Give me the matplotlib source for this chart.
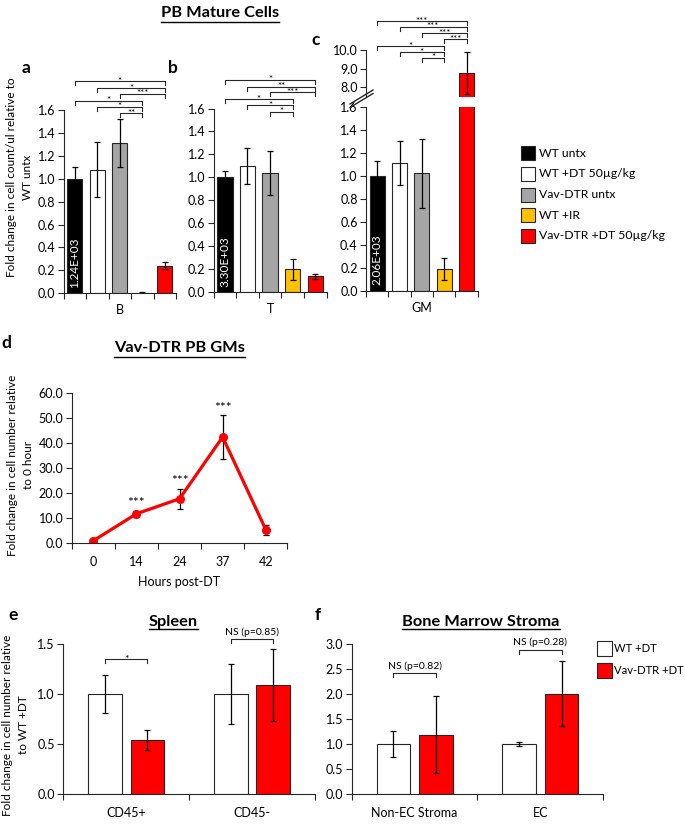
import matplotlib
matplotlib.use("Agg")
import matplotlib.pyplot as plt
from matplotlib.patches import Rectangle
from matplotlib.lines import Line2D
from matplotlib.ticker import FormatStrFormatter
import numpy as np

plt.rcParams['font.family'] = ['Lato', 'DejaVu Sans']

W, H = 685, 827

# ---- data ----
groups = ['WT untx', 'WT +DT 50µg/kg', 'Vav-DTR untx', 'WT +IR', 'Vav-DTR +DT 50µg/kg']
colors = ['#000000', '#ffffff', '#a5a5a5', '#ffc000', '#ff0000']

b_mean = [1.00, 1.08, 1.31, 0.005, 0.24]
b_err = [0.10, 0.24, 0.21, 0.003, 0.03]
t_mean = [1.00, 1.10, 1.04, 0.20, 0.14]
t_err = [0.06, 0.16, 0.19, 0.09, 0.02]
gm_mean = [1.00, 1.11, 1.02, 0.185, 8.75]
gm_err = [0.13, 0.19, 0.30, 0.095, 1.12]
base_counts = ['1.24E+03', '3.30E+03', '2.06E+03']

# significance brackets: (from bar, to bar, label)
b_sig = [(0, 4, '*'), (1, 4, '*'), (2, 4, '***'), (0, 3, '*'), (1, 3, '*'), (2, 3, '**')]
t_sig = [(0, 4, '*'), (1, 4, '**'), (2, 4, '***'), (0, 3, '*'), (1, 3, '*'), (2, 3, '*')]
gm_sig = [(0, 4, '***'), (1, 4, '***'), (2, 4, '***'), (3, 4, '***'),
          (0, 3, '*'), (1, 3, '*'), (2, 3, '*')]

hours = ['0', '14', '24', '37', '42']
gm_fold = [1.0, 11.8, 17.8, 42.5, 5.5]
gm_fold_err = [0.4, 1.3, 4.1, 8.7, 2.0]
gm_fold_sig = ['', '***', '***', '***', '']

spleen_cats = ['CD45+', 'CD45-']
spleen_wt = [1.0, 1.0]
spleen_wt_err = [0.19, 0.30]
spleen_vav = [0.54, 1.09]
spleen_vav_err = [0.10, 0.36]
spleen_sig = ['*', 'NS (p=0.85)']

stroma_cats = ['Non-EC Stroma', 'EC']
stroma_wt = [1.0, 1.0]
stroma_wt_err = [0.26, 0.04]
stroma_vav = [1.19, 2.01]
stroma_vav_err = [0.77, 0.65]
stroma_sig = ['NS (p=0.82)', 'NS (p=0.28)']

fig = plt.figure(figsize=(W / 100, H / 100), dpi=100)


def add_ax(l, t, r, b):
    return fig.add_axes([l / W, 1 - b / H, (r - l) / W, (b - t) / H])


def fx(px):
    return px / W


def fy(py):
    return 1 - py / H


EDGE = '#262626'
TICK_FS = 9
ekw = dict(elinewidth=0.9, capthick=0.9, ecolor='black')


def style(ax, fmt='%.1f'):
    for s in ['top', 'right']:
        ax.spines[s].set_visible(False)
    for s in ['left', 'bottom']:
        ax.spines[s].set_color(EDGE)
        ax.spines[s].set_linewidth(0.8)
    ax.tick_params(axis='y', direction='out', length=4, width=0.8, labelsize=TICK_FS, pad=2, color=EDGE)
    ax.tick_params(axis='x', which='major', length=0, labelsize=TICK_FS)
    ax.tick_params(axis='x', which='minor', direction='out', length=4, width=0.8, color=EDGE)
    ax.yaxis.set_major_formatter(FormatStrFormatter(fmt))


def bracket(ax, x0, x1, y, h, label, fs=7, dy=-1.8, va='baseline'):
    ax.plot([x0, x0, x1, x1], [y - h, y, y, y - h], color=EDGE, lw=0.8, clip_on=False)
    ax.annotate(label, xy=((x0 + x1) / 2, y), xytext=(0, dy), textcoords='offset points',
                ha='center', va=va, fontsize=fs, annotation_clip=False)


def bar_panel(ax, means, errs, cat, count, sig, levels):
    x = np.arange(len(means))
    ax.bar(x, means, width=0.68, color=colors, edgecolor=EDGE, linewidth=0.8,
           yerr=errs, capsize=2.5, error_kw=ekw)
    ax.set_xlim(-0.5, 4.5)
    ax.set_ylim(0, 1.6)
    ax.set_yticks(np.arange(0, 1.61, 0.2))
    ax.set_xticks([2])
    ax.set_xticklabels([cat])
    ax.set_xticks(np.arange(-0.5, 4.6, 1), minor=True)
    style(ax)
    ax.tick_params(axis='x', which='major', pad=8)
    ax.text(0, 0.05, count, rotation=90, color='white', ha='center', va='bottom', fontsize=8.5)
    for (i, j, lab), lev in zip(sig, levels):
        bracket(ax, i, j, lev, 0.035, lab)


# ---- panels a, b ----
lev_ab = [1.85, 1.79, 1.74, 1.68, 1.63, 1.57]
ax_a = add_ax(63.5, 110, 176, 293.3)
bar_panel(ax_a, b_mean, b_err, 'B', base_counts[0], b_sig, lev_ab)
ax_b = add_ax(213.5, 108.5, 326.7, 292.3)
bar_panel(ax_b, t_mean, t_err, 'T', base_counts[1], t_sig, lev_ab)

# ---- panel c (broken axis) ----
ax_c = add_ax(366, 106.7, 477.7, 290.7)
bar_panel(ax_c, gm_mean, gm_err, 'GM', base_counts[2], [], [])
ax_cu = add_ax(366, 50, 477.7, 96.7)
ax_cu.bar(np.arange(5), gm_mean, width=0.68, color=colors, edgecolor=EDGE, linewidth=0.8,
          yerr=gm_err, capsize=2.5, error_kw=ekw)
ax_cu.set_xlim(-0.5, 4.5)
ax_cu.set_ylim(7.5, 10.0)
ax_cu.set_yticks([8, 9, 10])
style(ax_cu)
ax_cu.spines['bottom'].set_visible(False)
ax_cu.set_xticks([])
lev_c = [11.55, 11.24, 10.89, 10.57, 10.21, 9.87, 9.58]
for (i, j, lab), lev in zip(gm_sig, lev_c):
    bracket(ax_cu, i, j, lev, 0.2, lab)
for off in [0, 3.5]:
    fig.add_artist(Line2D([fx(350), fx(373)], [fy(107.5 - off), fy(93.5 - off)],
                          color=EDGE, lw=1.0))

# legend a-c
for i, (lab, c) in enumerate(zip(groups, colors)):
    yc = 153.3 + i * 20.6
    fig.add_artist(Rectangle((fx(520.7), fy(yc + 7)), 14.5 / W, 14 / H, transform=fig.transFigure,
                             fc=c, ec=EDGE, lw=0.8))
    fig.text(fx(539.3), fy(yc), lab, va='center', ha='left', fontsize=8.8)

# ---- panel d ----
ax_d = add_ax(71.7, 393.3, 287.3, 543.3)
xd = np.arange(len(hours))
ax_d.errorbar(xd, gm_fold, yerr=gm_fold_err, color='#ff0000', lw=2.3, marker='o', ms=5.5,
              capsize=2.5, **ekw)
for i, s in enumerate(gm_fold_sig):
    if s:
        ax_d.text(i, gm_fold[i] + gm_fold_err[i] + 3.0, s, ha='center', va='center', fontsize=10)
ax_d.set_xlim(-0.5, 4.5)
ax_d.set_ylim(0, 60)
ax_d.set_yticks(np.arange(0, 61, 10))
ax_d.set_xticks(xd)
ax_d.set_xticklabels(hours)
ax_d.set_xticks(np.arange(-0.5, 4.6, 1), minor=True)
style(ax_d)
ax_d.tick_params(axis='x', which='major', pad=9)
ax_d.set_xlabel('Hours post-DT', fontsize=9, labelpad=6)


# ---- panels e, f ----
def group_panel(ax, cats, wt, wt_err, vav, vav_err, sig, ymax, step, sig_lev, h):
    x = np.arange(len(cats))
    off, w = 0.168, 0.267
    ax.bar(x - off, wt, width=w, color='white', edgecolor=EDGE, linewidth=0.8,
           yerr=wt_err, capsize=2.5, error_kw=ekw)
    ax.bar(x + off, vav, width=w, color='#ff0000', edgecolor=EDGE, linewidth=0.8,
           yerr=vav_err, capsize=2.5, error_kw=ekw)
    ax.set_xlim(-0.5, len(cats) - 0.5)
    ax.set_ylim(0, ymax)
    ax.set_yticks(np.arange(0, ymax + 0.01, step))
    ax.set_xticks(x)
    ax.set_xticklabels(cats)
    ax.set_xticks(np.arange(-0.5, len(cats), 1), minor=True)
    style(ax)
    ax.tick_params(axis='x', which='major', pad=9)
    for i, (lab, lev) in enumerate(zip(sig, sig_lev)):
        if lab == '*':
            bracket(ax, i - off, i + off, lev, h, lab, fs=7.5)
        else:
            bracket(ax, i - off, i + off, lev, h, lab, fs=7.5, dy=1.5, va='bottom')


ax_e = add_ax(63.3, 644.3, 315, 794.3)
group_panel(ax_e, spleen_cats, spleen_wt, spleen_wt_err, spleen_vav, spleen_vav_err,
            spleen_sig, 1.5, 0.5, [1.35, 1.55], 0.04)
ax_f = add_ax(351.7, 644, 603.3, 794.3)
group_panel(ax_f, stroma_cats, stroma_wt, stroma_wt_err, stroma_vav, stroma_vav_err,
            stroma_sig, 3.0, 0.5, [2.42, 2.89], 0.08)

for i, (lab, c) in enumerate(zip(['WT +DT', 'Vav-DTR +DT'], ['white', '#ff0000'])):
    yc = 648.3 + i * 21.7
    fig.add_artist(Rectangle((fx(596.7), fy(yc + 7.5)), 15 / W, 15 / H, transform=fig.transFigure,
                             fc=c, ec=EDGE, lw=0.8))
    fig.text(fx(614.5), fy(yc), lab, va='center', ha='left', fontsize=8.1)

# ---- y labels ----
ylabels = [((19.5, 177.5), 'Fold change in cell count/ul relative to\nWT untx'),
           ((20.5, 465), 'Fold change in cell number relative\nto 0 hour'),
           ((15.5, 725), 'Fold change in cell number relative\nto WT +DT')]
for (px, py), txt in ylabels:
    fig.text(fx(px), fy(py), txt, rotation=90, ha='center', va='center',
             multialignment='center', fontsize=8.5, linespacing=1.45)

# ---- panel letters ----
for lab, (px, py) in zip('abcdef', [(26, 68), (173, 68), (316, 40), (6, 343), (13, 615), (318, 615)]):
    fig.text(fx(px), fy(py), lab, fontsize=12.5, fontweight='bold', ha='center', va='center')

# ---- underlined titles ----
titles = [('PB Mature Cells', 219.7, 13, 21.7),
          ('Vav-DTR PB GMs', 179.7, 348, 357),
          ('Spleen', 173.3, 621.7, 629),
          ('Bone Marrow Stroma', 481, 621.7, 629)]
renderer = fig.canvas.get_renderer()
for txt, px, py, uy in titles:
    t = fig.text(fx(px), fy(py), txt, fontsize=11.8, fontweight='bold', ha='center', va='center')
    bb = t.get_window_extent(renderer)
    fig.add_artist(Line2D([bb.x0 / W, bb.x1 / W], [fy(uy)] * 2, color='black', lw=1.0))

fig.savefig('out.png', dpi=100)
